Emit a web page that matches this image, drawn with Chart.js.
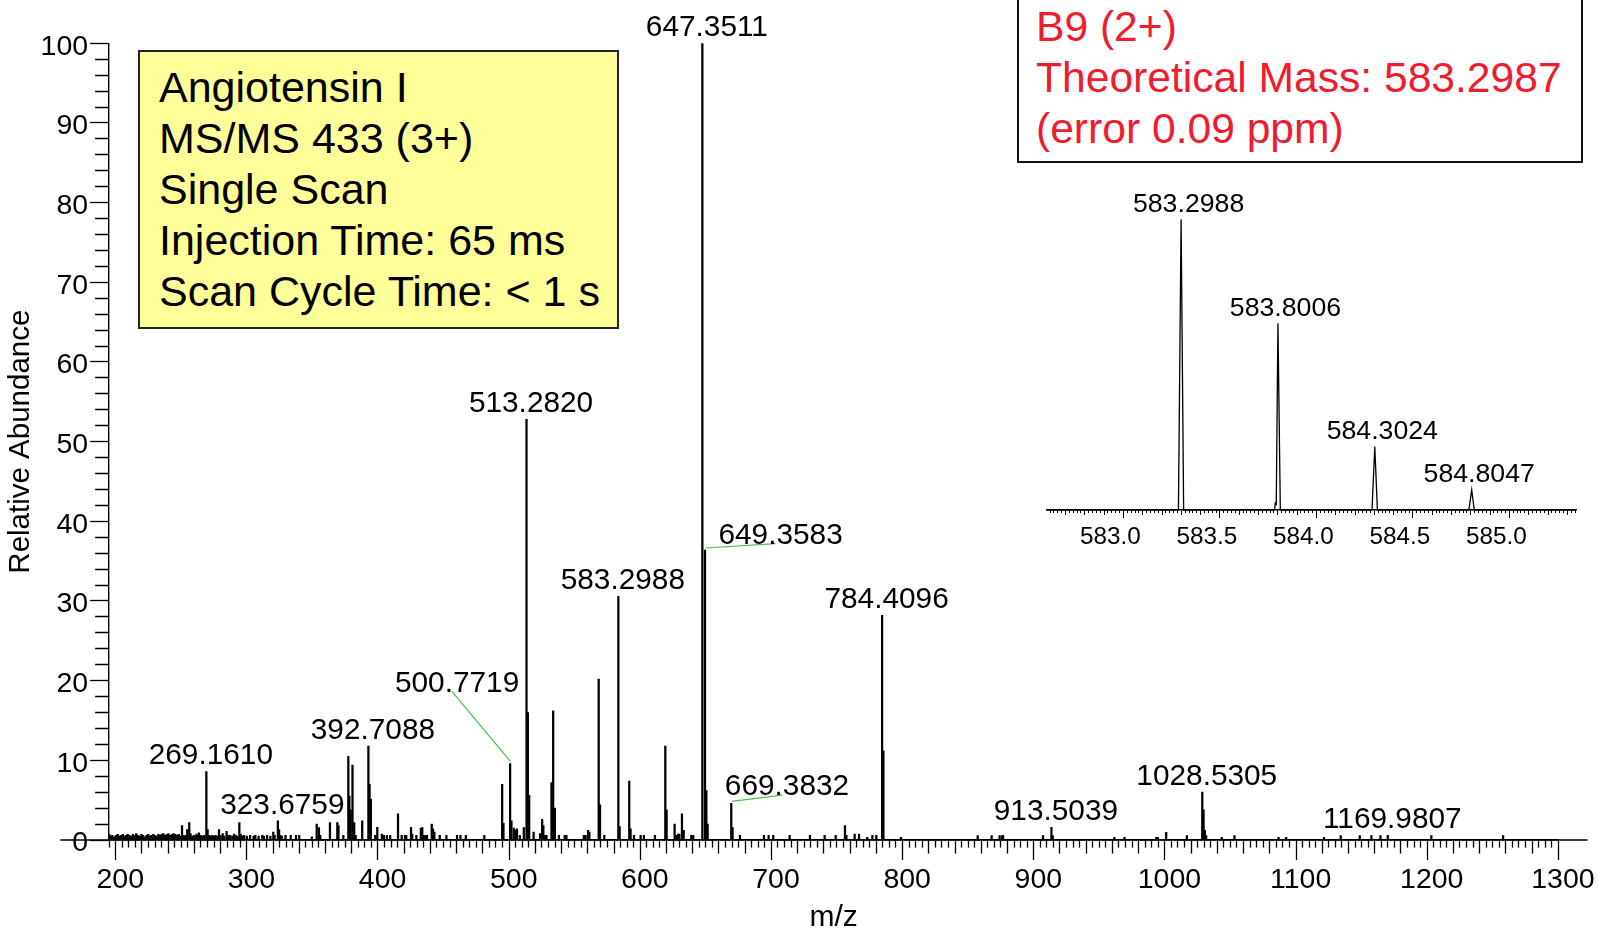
<!DOCTYPE html>
<html>
<head>
<meta charset="utf-8">
<script src="https://cdn.jsdelivr.net/npm/chart.js@4.4.1/dist/chart.umd.min.js"></script>
<style>
html,body{margin:0;padding:0;background:#fff;}
#wrap{position:relative;width:1599px;height:930px;overflow:hidden;font-family:'Liberation Sans',Arial,sans-serif;background:#fff;}
#main{position:absolute;left:0;top:0;}
#inset{position:absolute;left:1020px;top:160px;}
.box{position:absolute;box-sizing:border-box;}
#infoBox{left:138px;top:50px;width:481px;height:279px;background:#FFFF99;border:2px solid #222;}
#massBox{left:1017px;top:-10px;width:566px;height:173px;background:#fff;border:2px solid #111;}
.txt{position:absolute;font-size:43px;line-height:51px;white-space:nowrap;}
#infoText{left:159px;top:62px;color:#000;}
#massText{left:1036px;top:1px;color:#EE1C2E;font-size:42.6px;}
</style>
</head>
<body>
<div id="wrap">
  <canvas id="main" width="1599" height="930"></canvas>
  <div class="box" id="infoBox"></div>
  <div class="txt" id="infoText">Angiotensin I<br>MS/MS 433 (3+)<br>Single Scan<br>Injection Time: 65 ms<br>Scan Cycle Time: &lt; 1 s</div>
  <div class="box" id="massBox"></div>
  <div class="txt" id="massText">B9 (2+)<br>Theoretical Mass: 583.2987<br>(error 0.09 ppm)</div>
  <canvas id="inset" width="579" height="400"></canvas>
</div>
<script>
// ---------------- DATA ----------------
// Main spectrum: centroid sticks (m/z, relative abundance %)
const peakMz = [
  195.2,196.4,197.5,198.9,200.3,201.6,202.8,204.1,205.5,206.6,208.0,209.2,210.5,211.9,213.1,214.4,215.7,217.0,218.2,219.6,
  220.9,222.1,223.5,224.8,226.0,227.3,228.7,229.9,231.2,232.6,233.8,235.1,236.4,237.7,239.0,240.3,241.5,242.9,244.2,245.5,
  246.8,248.1,249.3,250.6,251.3,252.4,253.3,254.6,256.1,257.1,258.3,259.7,260.6,261.7,262.6,263.5,265.0,266.3,267.6,269.1610,
  270.1,271.3,272.5,273.7,275.0,276.2,277.5,278.8,280.0,281.6,282.8,284.6,285.5,287.3,289.0,290.3,291.6,292.8,294.3,295.4,
  296.6,297.9,300.0,302.5,305.2,306.5,309.0,311.8,313.0,315.5,318.0,320.2,321.2,323.6759,324.6,325.5,326.8,329.5,333.5,337.5,
  340.0,349.6,353.3,355.0,356.0,363.4,369.0,369.9,373.6,377.4,378.2,379.2,380.6,381.9,383.0,388.0,392.7088,393.6,394.6,397.9,
  399.5,403.0,404.5,406.8,409.3,415.3,418.1,420.6,421.6,425.2,426.1,429.3,432.7,433.8,434.8,436.1,437.4,441.0,442.0,443.0,
  447.1,452.2,460.3,462.9,467.0,481.1,494.7,495.7,500.7719,501.8,503.6,504.9,506.0,508.2,511.2,513.2820,514.3,515.3,518.7,523.6,
  525.2,526.1,527.2,528.5,532.3,533.6,534.9,538.0,542.4,543.7,557.0,558.3,560.2,561.2,568.3,569.3,572.6,583.2988,584.3,591.6,
  592.6,595.2,600.3,602.8,611.2,619.1,620.1,626.2,627.5,628.8,629.8,631.8,633.1,638.9,640.4,647.3511,649.3583,650.4,651.4,669.3832,
  670.4,676.0,694.3,697.9,701.4,713.9,729.4,740.6,749.0,756.1,757.2,763.5,766.8,773.1,777.0,780.0,784.4096,785.4,798.8,857.3,
  867.9,874.0,875.9,876.7,907.1,913.5039,914.5,961.5,969.2,993.4,994.7,1001.0,1016.8,1028.5305,1029.5,1030.5,1031.5,1043.4,1053.1,1086.7,
  1092.5,1121.4,1134.1,1148.6,1157.5,1164.4,1169.9807,1203.2,1257.9
];
const peakInt = [
  0.7,0.5,0.6,0.4,0.6,0.7,0.5,0.6,0.7,0.5,0.6,0.7,0.6,0.5,0.7,0.6,0.8,0.6,0.5,0.7,
  0.6,0.4,0.6,0.7,0.5,0.6,0.7,0.6,0.5,0.7,0.6,0.7,0.8,0.6,0.7,0.8,0.6,0.7,0.8,0.7,
  0.6,0.7,0.5,1.8,0.6,0.5,0.6,1.3,2.2,0.8,0.5,0.6,0.5,0.75,0.5,0.9,0.6,0.5,0.6,8.6,
  1.3,0.6,0.5,0.6,0.5,0.6,0.5,1.3,0.6,0.8,0.5,1.1,0.6,0.6,0.5,0.75,0.6,0.5,2.2,0.75,
  0.5,0.6,0.5,0.6,0.5,0.6,0.5,0.6,0.5,0.6,0.5,1.0,0.6,2.4,1.3,0.6,0.5,0.6,0.6,0.6,
  0.6,0.4,2.0,1.55,0.6,2.2,2.2,1.8,0.6,10.5,5.5,3.8,9.4,2.2,0.6,2.4,11.8,7.0,5.1,0.6,
  1.6,0.75,0.6,0.6,0.6,3.3,0.6,0.6,0.6,1.6,0.75,0.6,1.45,1.6,0.6,0.6,0.6,2.0,1.4,1.0,
  0.6,0.6,0.6,0.6,0.6,0.6,7.0,2.1,9.6,2.4,1.5,1.25,1.4,0.6,1.55,52.8,16.0,5.6,1.0,0.8,
  2.6,1.8,0.6,0.6,7.2,16.2,4.0,0.6,0.6,0.6,0.6,0.6,1.2,1.0,20.2,4.4,0.6,30.6,1.7,7.4,
  1.4,0.6,0.6,0.6,0.6,11.8,3.8,2.0,0.6,0.75,0.75,3.3,1.2,0.6,0.6,100,36.4,6.2,2.0,4.6,
  1.55,0.6,0.6,0.6,0.6,0.6,0.6,0.6,0.6,1.8,0.6,0.75,0.75,0.35,0.6,0.6,28.2,11.2,0.35,0.55,
  0.55,0.55,0.55,0.55,0.55,1.6,0.55,0.35,0.35,0.35,0.35,0.95,0.55,6.0,3.8,1.2,0.55,0.35,0.55,0.35,
  0.35,0.35,0.55,0.55,0.55,0.55,0.6,0.55,0.55
];
// Spectrum baseline extent (m/z)
const baselineMz = [157.8, 1322.3];

// Annotated peaks in the main spectrum
const labelMz  = [269.1610, 323.6759, 392.7088, 500.7719, 513.2820, 583.2988, 647.3511, 649.3583, 669.3832, 784.4096, 913.5039, 1028.5305, 1169.9807];
const labelInt = [8.6, 2.4, 11.8, 9.6, 52.8, 30.6, 100, 36.4, 4.6, 28.2, 1.6, 6.0, 0.6];
const labelText = ['269.1610','323.6759','392.7088','500.7719','513.2820','583.2988','647.3511','649.3583','669.3832','784.4096','913.5039','1028.5305','1169.9807'];

// Inset: B9 (2+) isotope cluster, profile trace
const insetMz  = [582.604, 583.285, 583.2988, 583.312, 583.783, 583.787, 583.792, 583.8006, 583.813, 584.288, 584.3024, 584.316, 584.790, 584.8047, 584.818, 585.345];
const insetInt = [0, 0, 100, 0, 0, 2.4, 2.0, 64.2, 0, 0, 21.8, 0, 0, 6.9, 0, 0];
const insetLabelMz  = [583.2988, 583.8006, 584.3024, 584.8047];
const insetLabelInt = [100, 64.2, 21.8, 6.9];
const insetLabelText = ['583.2988','583.8006','584.3024','584.8047'];

// Axis tick label values
const mainXTickLabels = [200,300,400,500,600,700,800,900,1000,1100,1200,1300];
const mainYTickLabels = [0,10,20,30,40,50,60,70,80,90,100];
const insetXTickLabels = ['583.0','583.5','584.0','584.5','585.0'];

// ---------------- STYLE ----------------
const FONT = "'Liberation Sans', Arial, Helvetica, sans-serif";

const peakLabelPlugin = {
  id: 'peakLabels',
  afterDatasetsDraw(chart, args, o) {
    if (!o || !o.mz) return;
    const {ctx} = chart;
    const x = chart.scales.x, y = chart.scales.y;
    ctx.save();
    ctx.font = o.font;
    ctx.textAlign = 'center';
    ctx.textBaseline = 'alphabetic';
    o.mz.forEach((m, i) => {
      const px = x.getPixelForValue(m);
      const py = y.getPixelForValue(o.val[i]);
      const off = (o.offsets && o.offsets[o.text[i]]) || o.defaultOffset;
      const lx = px + off[0], ly = py + off[1];
      if (o.offsets && o.offsets[o.text[i]]) {
        ctx.strokeStyle = '#4CBB4C';
        ctx.lineWidth = 1.2;
        ctx.beginPath();
        ctx.moveTo(px + 0.5, py - 2);
        ctx.lineTo(lx - 5, ly);
        ctx.stroke();
      }
      ctx.fillStyle = '#000';
      ctx.fillText(o.text[i], lx, ly);
    });
    ctx.restore();
  }
};

const mainCtx = document.getElementById('main');
const mainChart = new Chart(mainCtx, {
  type: 'bar',
  data: {
    datasets: [
      {
        type: 'bar',
        data: peakMz.map((m, i) => ({x: m, y: peakInt[i]})),
        backgroundColor: '#000',
        borderWidth: 0,
        barThickness: 1.6,
        order: 1
      },
      {
        type: 'line',
        data: baselineMz.map(m => ({x: m, y: 0})),
        borderColor: '#000',
        borderWidth: 1.3,
        pointRadius: 0,
        clip: false,
        order: 2
      }
    ]
  },
  options: {
    responsive: false,
    animation: false,
    devicePixelRatio: 1,
    layout: {padding: {left: 0, top: 43.3, right: 40.7, bottom: 0}},
    plugins: {
      legend: {display: false},
      tooltip: {enabled: false},
      peakLabels: {
        mz: labelMz, val: labelInt, text: labelText,
        font: '29.8px ' + FONT,
        defaultOffset: [4.5, -7],
        offsets: {'500.7719': [-53, -71.8], '649.3583': [75.6, -6.4], '669.3832': [55.7, -8.3]}
      }
    },
    scales: {
      x: {
        type: 'linear', min: 195, max: 1300, offset: false, z: 1,
        grid: {
          drawOnChartArea: false, offset: false, tickLength: 20, tickColor: '#000', tickWidth: 1.3,
          tickBorderDash: (c) => {
            const v = Math.round(c.tick ? c.tick.value : 0);
            if (v % 100 === 0) return [];
            if (v % 20 === 0) return [13, 100];
            return [7, 100];
          }
        },
        border: {color: '#000', width: 1.6},
        ticks: {
          stepSize: 5, autoSkip: false, includeBounds: false, maxRotation: 0, minRotation: 0,
          labelOffset: 4.6, padding: 3.5, color: '#000', font: {family: FONT, size: 28.5},
          callback: (v) => mainXTickLabels.includes(Math.round(v)) && Math.abs(v - Math.round(v)) < 1e-6 ? String(Math.round(v)) : ''
        },
        title: {display: true, text: 'm/z', color: '#000', font: {family: FONT, size: 30}, padding: {top: 0, bottom: -6}},
        afterFit: (s) => { s.height = 90; }
      },
      y: {
        type: 'linear', min: 0, max: 100,
        grid: {
          drawOnChartArea: false, tickLength: 19, tickColor: '#000', tickWidth: 1.3,
          tickBorderDash: (c) => {
            const v = Math.round(c.tick ? c.tick.value : 0);
            if (v % 10 === 0) return [];
            return [0, 5, 14, 100];
          }
        },
        border: {color: '#000', width: 1.4},
        ticks: {
          stepSize: 2, autoSkip: false, padding: 2, labelOffset: 3.5, color: '#000', font: {family: FONT, size: 28.5},
          callback: (v) => mainYTickLabels.includes(Math.round(v)) ? String(Math.round(v)) : ''
        },
        title: {display: true, text: 'Relative Abundance', color: '#000', font: {family: FONT, size: 29.5}, padding: {top: 3.5, bottom: 0}},
        afterFit: (s) => { s.width = 109.1; }
      }
    }
  },
  plugins: [peakLabelPlugin]
});

const insetChart = new Chart(document.getElementById('inset'), {
  type: 'line',
  data: {
    datasets: [{
      data: insetMz.map((m, i) => ({x: m, y: insetInt[i]})),
      borderColor: '#000',
      borderWidth: 1.3,
      pointRadius: 0,
      tension: 0,
      clip: false
    }]
  },
  options: {
    responsive: false,
    animation: false,
    devicePixelRatio: 1,
    layout: {padding: {left: 27, top: 59.3, right: 23, bottom: 0}},
    plugins: {
      legend: {display: false},
      tooltip: {enabled: false},
      peakLabels: {
        mz: insetLabelMz, val: insetLabelInt, text: insetLabelText,
        font: '26.7px ' + FONT,
        defaultOffset: [7.5, -7.5]
      }
    },
    scales: {
      x: {
        type: 'linear', min: 582.604, max: 585.345, offset: false,
        grid: {
          drawOnChartArea: false, tickLength: 8, tickColor: '#000', tickWidth: 1,
          tickBorderDash: (c) => {
            const k = Math.round((c.tick ? c.tick.value : 0) * 100);
            if (k % 50 === 0) return [];
            if (k % 10 === 0) return [4.5, 50];
            return [2.5, 50];
          }
        },
        border: {color: '#000', width: 1.5},
        ticks: {
          stepSize: 0.02, autoSkip: false, includeBounds: false, maxRotation: 0, minRotation: 0,
          labelOffset: -13, padding: 4.6, color: '#000', font: {family: FONT, size: 24.3},
          callback: (v) => insetXTickLabels.includes(v.toFixed(2).slice(0, -1)) && Math.round(v * 100) % 50 === 0 ? v.toFixed(1) : ''
        },
        afterFit: (s) => { s.height = 50; }
      },
      y: {type: 'linear', min: 0, max: 100, display: false}
    }
  },
  plugins: [peakLabelPlugin]
});
</script>
</body>
</html>
